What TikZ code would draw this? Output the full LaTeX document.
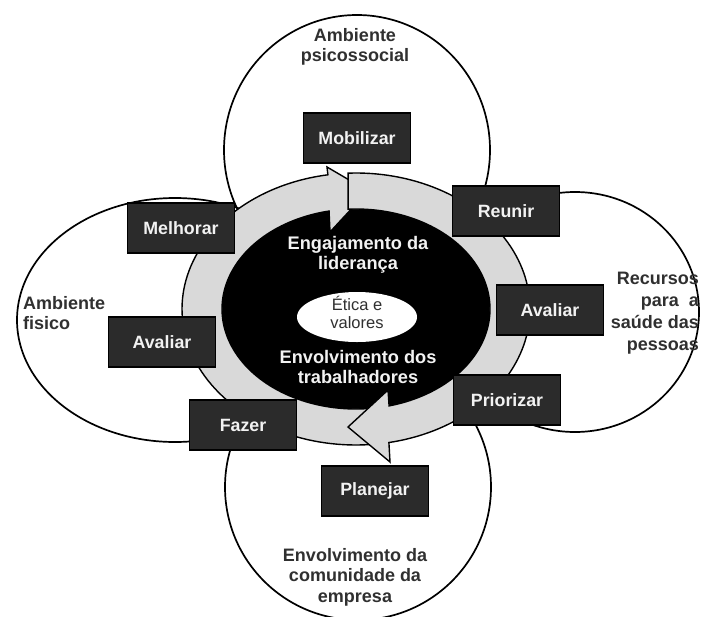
\documentclass[tikz,border=0pt]{standalone}
\usepackage{fontspec}
\setmainfont{Liberation Sans}
\definecolor{boxfill}{HTML}{2B2B2B}
\definecolor{bandgray}{HTML}{D9D9D9}
\definecolor{labeltext}{HTML}{303030}
\definecolor{boxtext}{HTML}{F2F2F2}
\tikzset{
  stepbox/.style={draw=black, line width=1.4pt, fill=boxfill, minimum width=107pt, minimum height=50pt, inner sep=0pt, text=boxtext, font=\bfseries\fontsize{17.8}{20}\selectfont},
  ring/.style={draw=black, line width=1.7pt},
  band/.style={draw=black, line width=1.4pt, fill=bandgray, line join=miter},
  lbl/.style={text=labeltext, font=\bfseries\fontsize{18}{20.5}\selectfont, inner sep=0pt},
  corelbl/.style={text=boxtext, font=\bfseries\fontsize{18.2}{20}\selectfont, inner sep=0pt, align=center},
  ethic/.style={text=labeltext, font=\fontsize{16.5}{18}\selectfont, inner sep=0pt, align=center}
}
\begin{document}
\begin{tikzpicture}[x=1pt,y=-1pt]
\useasboundingbox[fill=white] (0,0) rectangle (701,616);
% outer ellipses
\draw[ring] (357,150) ellipse [x radius=133, y radius=135];
\draw[ring] (175,320) ellipse [x radius=158, y radius=122];
\draw[ring] (575,312) ellipse [x radius=124, y radius=120];
\draw[ring] (358,487) ellipse [x radius=133, y radius=133];
% black core
\fill[black] (356,309) ellipse [x radius=134, y radius=100];
% arrow 2 (bottom -> left -> top)
\draw[band] plot[domain=82:260.7, samples=90, variable=\t] ({356+174*cos(\t)},{309+136*sin(\t)})
  -- (327,167) -- (368,191) -- (330,232)
  -- plot[domain=258.4:79.7, samples=90, variable=\t] ({356+134*cos(\t)},{309+100*sin(\t)}) -- cycle;
% arrow 1 (top -> right -> bottom)
\draw[band] plot[domain=267.4:439.1, samples=90, variable=\t] ({356+174*cos(\t)},{309+136*sin(\t)})
  -- (390,462) -- (348,427) -- (388,390)
  -- plot[domain=435.7:266.6, samples=90, variable=\t] ({356+134*cos(\t)},{309+100*sin(\t)}) -- cycle;
% white centre
\fill[white] (357,317) ellipse [x radius=60, y radius=25];
\node[ethic] (etica) at (357,312) {Ética e\\valores};
\node[corelbl] (lider) at (358,255) {Engajamento da\\liderança};
\node[corelbl] (trab) at (358,367) {Envolvimento dos\\trabalhadores};
% labels
\node[lbl, align=center] (psico) at (355,47) {Ambiente\\psicossocial};
\node[lbl, align=left, anchor=west] (fisico) at (23,313) {Ambiente\\fisico};
\node[lbl, align=right, anchor=east, font=\bfseries\fontsize{18}{22}\selectfont] (recursos) at (699,313) {Recursos\\para\ \ a\\saúde das\\pessoas};
\node[lbl, align=center] (comun) at (355,577) {Envolvimento da\\comunidade da\\empresa};
% step boxes
\node[stepbox] (mobilizar) at (357,138) {Mobilizar};
\node[stepbox] (reunir) at (506,211) {Reunir};
\node[stepbox] (avaliarR) at (550,310) {Avaliar};
\node[stepbox] (priorizar) at (507,400) {Priorizar};
\node[stepbox] (planejar) at (375,491) {Planejar};
\node[stepbox] (fazer) at (243,425) {Fazer};
\node[stepbox] (avaliarL) at (162,342) {Avaliar};
\node[stepbox] (melhorar) at (181,228) {Melhorar};
\end{tikzpicture}
\end{document}
